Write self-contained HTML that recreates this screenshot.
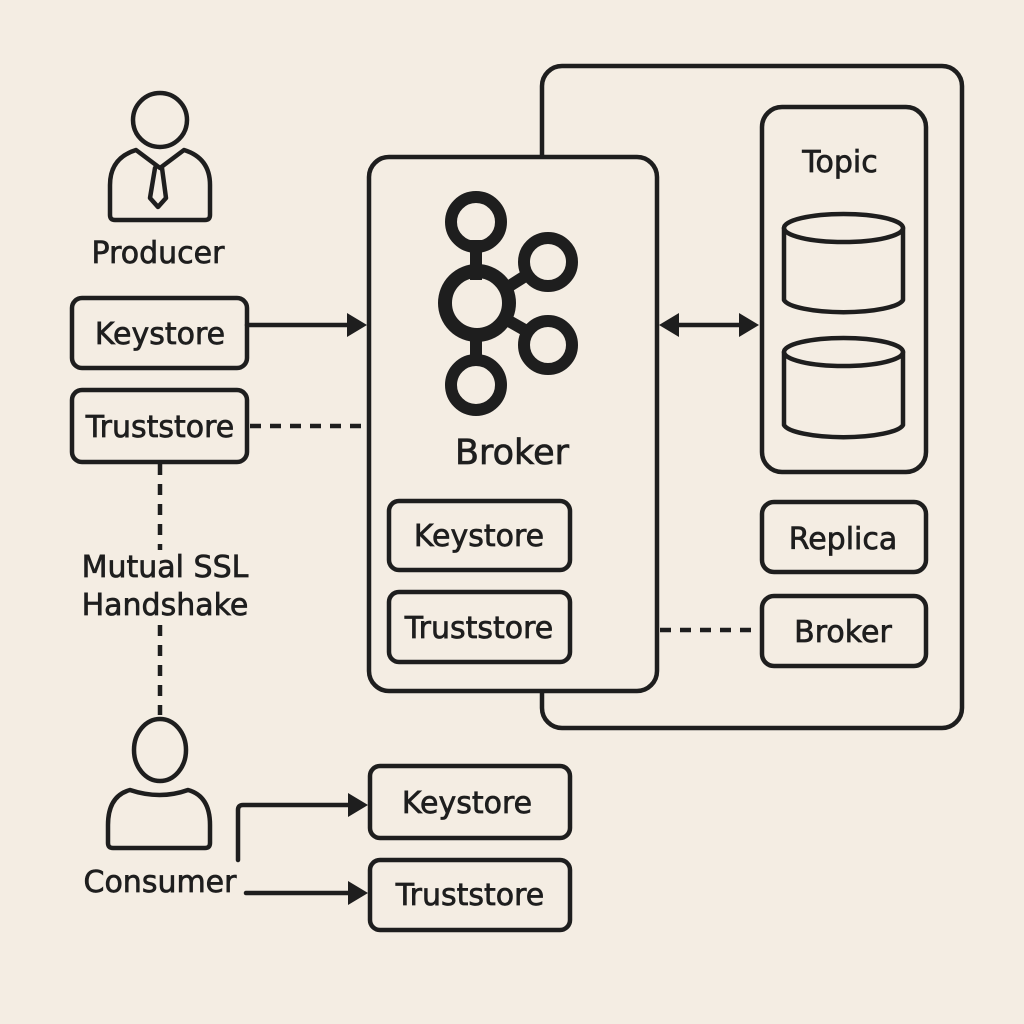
<!DOCTYPE html>
<html><head><meta charset="utf-8"><style>
html,body{margin:0;padding:0;background:#f4ede3}
svg{display:block}
text{font-family:"DejaVu Sans","Liberation Sans",sans-serif;fill:#1e1e1e;stroke:#1e1e1e;stroke-width:0.7}
</style></head><body>
<svg width="1024" height="1024" viewBox="0 0 1024 1024" xmlns="http://www.w3.org/2000/svg">
<rect width="1024" height="1024" fill="#f4ede3"/>
<g fill="none" stroke="#1e1e1e" stroke-width="4.5" stroke-linecap="round" stroke-linejoin="round">
<rect x="542" y="66" width="420" height="662" rx="20" fill="#f4ede3"/>
<rect x="369" y="157" width="288" height="534" rx="20" fill="#f4ede3"/>
<rect x="762" y="107" width="164" height="365" rx="20"/>
<rect x="762" y="502" width="164" height="70" rx="12"/>
<rect x="762" y="596" width="164" height="70" rx="12"/>
<rect x="389" y="501" width="181" height="69" rx="10"/>
<rect x="389" y="592" width="181" height="70" rx="10"/>
<rect x="72" y="298" width="175" height="70" rx="10"/>
<rect x="72" y="390" width="175" height="72" rx="10"/>
<rect x="370" y="766" width="200" height="72" rx="10"/>
<rect x="370" y="860" width="200" height="70" rx="10"/>
<path d="M784 228 V300 A60 14 0 0 0 903 300 V228"/>
<ellipse cx="843.5" cy="228" rx="59.5" ry="14"/>
<path d="M784 352 V425 A60 14 0 0 0 903 425 V352"/>
<ellipse cx="843.5" cy="352" rx="59.5" ry="14"/>
<circle cx="160" cy="120" r="27"/>
<path d="M136 150 Q110 158 110 185 V215 Q110 220 115 220 H205 Q210 220 210 215 V185 Q210 158 184 150 L160 168 Z"/>
<path d="M155 168 L150 198 L158 207 L166 198 L162 168"/>
<ellipse cx="160" cy="750" rx="26" ry="31"/>
<path d="M130 790 Q108 796 108 825 V843 Q108 848 113 848 H205 Q210 848 210 843 V825 Q210 796 188 790 Q160 800 130 790 Z"/>
<path d="M247 325 H350"/>
<path d="M250 426 H367" stroke-dasharray="11 9" stroke-linecap="butt"/>
<path d="M160 464 V550" stroke-dasharray="11 9" stroke-linecap="butt"/>
<path d="M160 625 V715" stroke-dasharray="11 9" stroke-linecap="butt"/>
<path d="M238 860 V810 Q238 805 243 805 H350"/>
<path d="M246 893 H350"/>
<path d="M675 325 H742"/>
<path d="M660 630 H758" stroke-dasharray="11 9" stroke-linecap="butt"/>
</g>
<g fill="#1e1e1e">
<path d="M367 325 L347 313 V337 Z"/>
<path d="M368 805 L348 793 V817 Z"/>
<path d="M368 893 L348 881 V905 Z"/>
<path d="M659 325 L679 313 V337 Z"/>
<path d="M759 325 L739 313 V337 Z"/>
</g>
<g fill="none" stroke="#1e1e1e">
<path d="M476 240 V280 M476 330 V364 M500 292 L530 273 M500 316 L530 333" stroke-width="12"/>
<circle cx="476" cy="222" r="25" stroke-width="12"/>
<circle cx="477" cy="303" r="32" stroke-width="14"/>
<circle cx="548" cy="262" r="24" stroke-width="12"/>
<circle cx="548" cy="345" r="24" stroke-width="12"/>
<circle cx="476" cy="385" r="25" stroke-width="12"/>
</g>
<g font-size="30" text-anchor="middle">
<text x="158" y="263">Producer</text>
<text x="160" y="344">Keystore</text>
<text x="160" y="437">Truststore</text>
<text x="165" y="577">Mutual SSL</text>
<text x="165" y="615">Handshake</text>
<text x="160" y="892">Consumer</text>
<text x="467" y="813">Keystore</text>
<text x="470" y="905">Truststore</text>
<text x="479" y="546">Keystore</text>
<text x="479" y="638">Truststore</text>
<text x="512" y="464" font-size="35">Broker</text>
<text x="840" y="172">Topic</text>
<text x="843" y="549">Replica</text>
<text x="843" y="642">Broker</text>
</g>
</svg>
</body></html>
